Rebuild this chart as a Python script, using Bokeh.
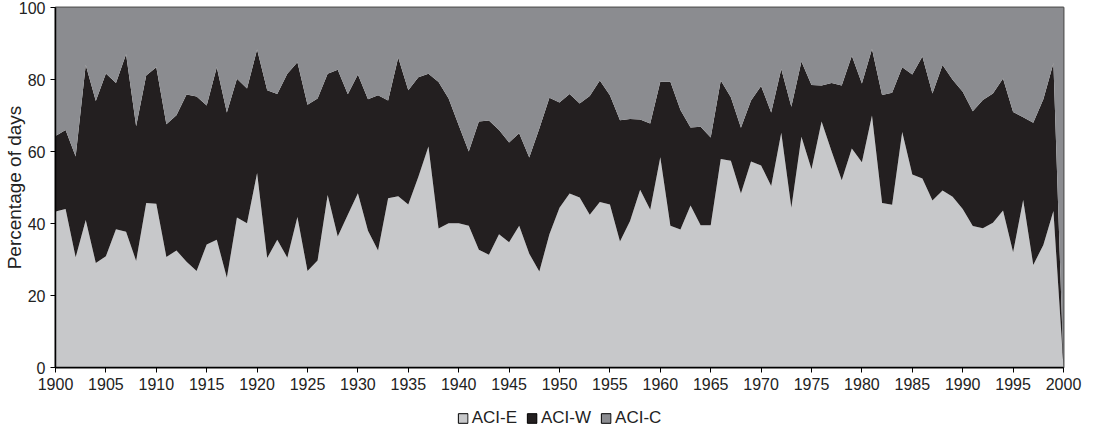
from bokeh.plotting import figure
from bokeh.layouts import column
from bokeh.models import ColumnDataSource, Legend, LegendItem, FixedTicker
from bokeh.embed import file_html
from bokeh.resources import INLINE

years = list(range(1900, 2001))

aci_e = [43.3, 44.0, 30.6, 41.0, 29.0, 30.9, 38.4, 37.7, 29.6, 45.7,
         45.5, 30.7, 32.5, 29.4, 26.8, 34.2, 35.5, 24.9, 41.7, 40.1,
         54.0, 30.4, 35.5, 30.5, 41.8, 26.8, 29.7, 47.9, 36.4, 42.4,
         48.4, 38.0, 32.5, 47.0, 47.6, 45.3, 53.0, 61.4, 38.6, 40.1,
         40.1, 39.4, 32.7, 31.3, 37.0, 34.8, 39.4, 31.6, 26.7, 37.0,
         44.4, 48.3, 47.2, 42.4, 46.0, 45.3, 35.0, 40.7, 49.4, 43.8,
         58.4, 39.4, 38.3, 45.0, 39.5, 39.5, 57.9, 57.4, 48.3, 57.2,
         56.1, 50.4, 65.2, 44.4, 64.1, 55.1, 68.3, 60.0, 52.0, 60.8,
         57.0, 70.0, 45.7, 45.2, 65.4, 53.6, 52.5, 46.4, 49.2, 47.4,
         44.0, 39.3, 38.7, 40.2, 43.6, 32.0, 46.5, 28.5, 34.0, 43.5,
         0.0]

aci_w = [21.0, 22.0, 28.0, 43.0, 45.0, 50.8, 40.6, 49.3, 37.4, 35.4,
         37.9, 36.9, 37.6, 46.4, 48.5, 38.6, 47.9, 45.9, 38.5, 37.4,
         34.3, 46.6, 40.5, 51.1, 43.0, 46.2, 45.0, 33.7, 46.3, 33.5,
         33.0, 36.5, 43.1, 27.2, 38.5, 31.7, 27.6, 20.2, 40.7, 34.6,
         27.2, 20.6, 35.6, 37.3, 29.0, 27.7, 25.7, 26.7, 39.7, 37.9,
         29.2, 27.7, 26.1, 33.0, 33.7, 30.3, 33.7, 28.3, 19.5, 24.0,
         21.0, 40.0, 33.2, 21.7, 27.4, 24.4, 21.8, 17.7, 18.3, 17.0,
         22.1, 20.4, 17.7, 28.0, 20.9, 23.4, 10.0, 19.0, 26.3, 25.8,
         21.9, 18.5, 30.0, 31.1, 18.0, 27.8, 33.9, 29.7, 34.8, 32.5,
         32.6, 31.9, 35.6, 35.9, 36.7, 39.0, 23.0, 39.5, 40.5, 41.0,
         0.0]

aci_c = [35.7, 34.0, 41.4, 16.0, 26.0, 18.3, 21.0, 13.0, 33.0, 18.9,
         16.6, 32.4, 29.9, 24.2, 24.7, 27.2, 16.6, 29.2, 19.8, 22.5,
         11.7, 23.0, 24.0, 18.4, 15.2, 27.0, 25.3, 18.4, 17.3, 24.1,
         18.6, 25.5, 24.4, 25.8, 13.9, 23.0, 19.4, 18.4, 20.7, 25.3,
         32.7, 40.0, 31.7, 31.4, 34.0, 37.5, 34.9, 41.7, 33.6, 25.1,
         26.4, 24.0, 26.7, 24.6, 20.3, 24.4, 31.3, 31.0, 31.1, 32.2,
         20.6, 20.6, 28.5, 33.3, 33.1, 36.1, 20.3, 24.9, 33.4, 25.8,
         21.8, 29.2, 17.1, 27.6, 15.0, 21.5, 21.7, 21.0, 21.7, 13.4,
         21.1, 11.5, 24.3, 23.7, 16.6, 18.6, 13.6, 23.9, 16.0, 20.1,
         23.4, 28.8, 25.7, 23.9, 19.7, 29.0, 30.5, 32.0, 25.5, 15.5,
         100.0]

series_names = ["ACI-E", "ACI-W", "ACI-C"]
series_colors = ["#C7C8CA", "#231F20", "#8B8C90"]
series_values = [aci_e, aci_w, aci_c]
x_ticks = list(range(1900, 2001, 5))
y_ticks = [0, 20, 40, 60, 80, 100]

source = ColumnDataSource(data=dict(year=years, e=aci_e, w=aci_w, c=aci_c))

FONT = "Liberation Sans"

p = figure(frame_width=1008, frame_height=360, output_backend="svg",
           toolbar_location=None,
           x_range=(1900, 2000), y_range=(0, 100),
           min_border_left=50, min_border_top=7, min_border_right=24,
           min_border_bottom=0)

p.varea_stack(["e", "w", "c"], x="year", source=source, color=series_colors)

p.xgrid.visible = False
p.ygrid.visible = False
p.outline_line_color = "#5a5a5a"
p.outline_line_width = 2
p.background_fill_color = "white"
p.border_fill_color = "white"

p.xaxis.ticker = FixedTicker(ticks=x_ticks)
p.yaxis.ticker = FixedTicker(ticks=y_ticks)
for ax in (p.xaxis[0], p.yaxis[0]):
    ax.axis_line_color = "black"
    ax.axis_line_width = 1.5
    ax.major_tick_line_color = "black"
    ax.major_tick_in = 0
    ax.major_tick_out = 5
    ax.minor_tick_line_color = None
    ax.major_label_text_font = FONT
    ax.major_label_text_font_size = "16px"
    ax.major_label_text_color = "#222222"
p.xaxis.major_label_standoff = 5

p.yaxis.axis_label = "Percentage of days"
p.yaxis.axis_label_text_font = FONT
p.yaxis.axis_label_text_font_size = "19px"
p.yaxis.axis_label_text_font_style = "normal"
p.yaxis.axis_label_text_color = "#222222"
p.yaxis.axis_label_standoff = -9

# legend strip below the chart, its frame aligned with the chart's frame
lf = figure(frame_width=1008, frame_height=52, output_backend="svg",
            toolbar_location=None, x_range=(0, 1), y_range=(0, 1),
            min_border_left=50, min_border_right=24, min_border_top=0,
            min_border_bottom=0, x_axis_type=None, y_axis_type=None)
lf.xgrid.visible = False
lf.ygrid.visible = False
lf.outline_line_color = None
lf.border_fill_color = "white"
lf.background_fill_color = "white"

items = []
for name, col, vals in zip(series_names, series_colors, series_values):
    # series outline patch (falls outside this strip's ranges, so only its
    # legend swatch is visible)
    r = lf.patch(x=years, y=vals, fill_color=col, line_color="black",
                 line_width=1)
    items.append(LegendItem(label=name, renderers=[r]))

legend = Legend(items=items, orientation="horizontal", location="center",
                glyph_width=12, glyph_height=12, label_standoff=3, spacing=9,
                padding=1, margin=0, border_line_color=None,
                background_fill_alpha=0,
                label_text_font=FONT, label_text_font_size="17px",
                label_text_color="#222222")
lf.add_layout(legend, "center")

layout = column(p, lf, spacing=0)

open("out.html", "w").write(file_html(layout, INLINE))
